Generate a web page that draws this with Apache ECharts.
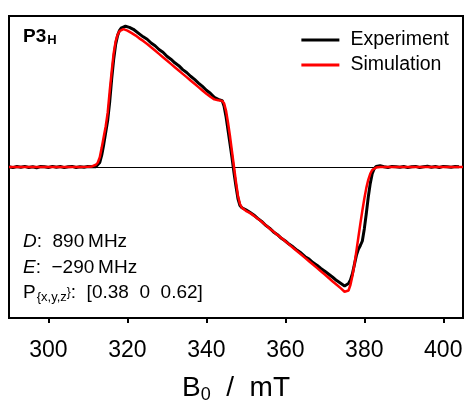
<!DOCTYPE html>
<html><head><meta charset="utf-8">
<script src="https://cdn.jsdelivr.net/npm/echarts@6/dist/echarts.min.js"></script>
<style>html,body{margin:0;padding:0;background:#fff}#c{width:465px;height:403px}</style>
</head><body><div id="c"></div>
<script>
const FONT = 'Liberation Sans';
const xTicks = [300, 320, 340, 360, 380, 400];

const simField = [290,300,305,308,310,311,311.5,312,312.5,313,313.5,314,314.5,315,315.5,316,316.5,317,317.5,318,318.5,319,319.5,320,321,322,323,324,325,326,327,328,329,330,331,332,333,334,335,336,337,338,339,340,341,342,342.5,343,343.5,344,344.5,345,345.5,346,346.5,347,347.5,348,348.5,349,349.5,350,350.5,351,352,353,354,355,356,357,358,359,360,361,362,363,364,365,366,367,368,369,370,371,372,373,374,374.5,375,375.5,376,376.5,377,377.5,378,378.5,379,379.5,380,380.5,381,381.5,382,382.5,383,384,390,405];
const simSignal = [0,0,0,0,0.001,0.004,0.008,0.015,0.03,0.065,0.13,0.2,0.27,0.36,0.5,0.63,0.75,0.83,0.875,0.9,0.91,0.913,0.91,0.903,0.888,0.872,0.852,0.835,0.815,0.793,0.771,0.749,0.727,0.705,0.683,0.661,0.639,0.617,0.595,0.573,0.551,0.529,0.507,0.485,0.465,0.448,0.443,0.442,0.443,0.438,0.42,0.37,0.29,0.2,0.1,0.0,-0.1,-0.19,-0.245,-0.27,-0.282,-0.29,-0.296,-0.304,-0.322,-0.342,-0.363,-0.385,-0.407,-0.428,-0.45,-0.47,-0.492,-0.514,-0.536,-0.558,-0.58,-0.602,-0.624,-0.646,-0.668,-0.69,-0.712,-0.735,-0.758,-0.78,-0.802,-0.815,-0.826,-0.83,-0.818,-0.78,-0.72,-0.645,-0.555,-0.465,-0.375,-0.29,-0.21,-0.14,-0.085,-0.045,-0.02,-0.008,-0.003,0,0,0];

const expField = [290,291,292,293,294,295,296,297,298,299,300,301,302,303,304,305,306,307,308,309,310,311,312,312.5,313,313.5,314,314.5,315,315.5,316,316.5,317,317.5,318,318.5,319,319.5,320,320.5,321,321.5,322,323,324,325,326,327,328,329,330,331,332,333,334,335,336,337,338,339,340,341,342,342.5,343,343.5,344,344.5,345,345.5,346,346.5,347,347.5,348,348.5,349,349.5,350,350.5,351,352,353,354,355,356,357,358,359,360,361,362,363,364,365,366,367,368,369,370,371,372,373,374,374.5,375,375.5,376,376.5,377,377.5,378,378.5,379,379.5,380,380.5,381,381.5,382,382.5,383,384,385,386,387,388,389,390,391,392,393,394,395,396,397,398,399,400,401,402,403,404,405];
const expSignal = [0.002,-0.004,0.003,-0.002,0.004,-0.003,0.002,-0.005,0.003,0.001,-0.003,0.004,-0.002,0.003,-0.004,0.002,0.004,-0.003,0.002,-0.002,0.003,0.001,0.002,0.008,0.03,0.08,0.15,0.23,0.31,0.43,0.58,0.71,0.81,0.87,0.905,0.922,0.93,0.932,0.928,0.925,0.915,0.912,0.9,0.882,0.862,0.846,0.821,0.803,0.778,0.76,0.733,0.714,0.69,0.671,0.645,0.626,0.601,0.58,0.556,0.534,0.508,0.488,0.462,0.452,0.448,0.447,0.44,0.4,0.33,0.24,0.15,0.06,-0.04,-0.13,-0.21,-0.255,-0.27,-0.275,-0.283,-0.292,-0.3,-0.318,-0.34,-0.36,-0.386,-0.405,-0.43,-0.448,-0.472,-0.49,-0.512,-0.53,-0.552,-0.57,-0.594,-0.61,-0.633,-0.65,-0.672,-0.69,-0.71,-0.73,-0.752,-0.77,-0.78,-0.788,-0.785,-0.772,-0.748,-0.705,-0.645,-0.585,-0.545,-0.52,-0.49,-0.41,-0.31,-0.2,-0.11,-0.045,-0.012,0.003,0.008,0.002,-0.003,0.004,0.002,-0.002,0.003,-0.004,0.002,0.004,-0.003,0.002,0.005,-0.002,0.003,-0.003,0.004,0.002,-0.002,0.003,0.002];

const zip = (xs, ys) => xs.map((x, i) => [x, ys[i]]);
const chart = echarts.init(document.getElementById('c'), null, {renderer: 'canvas'});
const rs = (size, extra) => Object.assign({fontSize: size, fontFamily: FONT, color: '#000'}, extra || {});

chart.setOption({
  animation: false,
  backgroundColor: '#fff',
  grid: {left: 9, right: 2, top: 16, bottom: 85, outerBoundsMode: 'none', containLabel: false, show: true, borderColor: '#000', borderWidth: 2, backgroundColor: 'transparent'},
  xAxis: {
    type: 'value', min: 290, max: 405,
    axisLine: {show: false, onZero: false},
    axisTick: {show: true, inside: false, length: 5, customValues: xTicks, lineStyle: {color: '#000', width: 2}},
    axisLabel: {customValues: xTicks, margin: 21, fontSize: 23, fontFamily: FONT, color: '#000'},
    splitLine: {show: false},
    name: '{a|B}{s|0}{a|  /  mT}', nameLocation: 'middle', nameGap: 55,
    nameTextStyle: {rich: {a: rs(28), s: rs(18, {padding: [13, 0, 0, 0]})}}
  },
  yAxis: {
    type: 'value', min: -1, max: 1, interval: 1,
    axisLine: {show: false}, axisTick: {show: false}, axisLabel: {show: false},
    splitLine: {show: true, lineStyle: {color: '#000', width: 1}}
  },
  legend: {
    data: ['Experiment', 'Simulation'], orient: 'vertical', right: 11, top: 25,
    icon: 'rect', itemWidth: 38, itemHeight: 3, itemGap: 5,
    textStyle: {fontSize: 19.5, fontFamily: FONT, color: '#000', padding: [0, 0, 0, 6], lineHeight: 18}
  },
  graphic: [
    {type: 'text', left: 23, top: 27, style: {text: '{b|P3}{s|H}', rich: {b: rs(19, {fontWeight: 'bold'}), s: rs(13, {fontWeight: 'bold', padding: [8, 0, 0, 1]})}}},
    {type: 'text', left: 23, top: 232, style: {text: '{i|D}{a|:  890\u2009MHz}', rich: {i: rs(19, {fontStyle: 'italic'}), a: rs(19)}}},
    {type: 'text', left: 23, top: 258, style: {text: '{i|E}{a|:  \u2212290\u2009MHz}', rich: {i: rs(19, {fontStyle: 'italic'}), a: rs(19)}}},
    {type: 'text', left: 23, top: 283, style: {text: '{a|P}{s|{x,y,z}}{a|:  [0.38  0  0.62]}', rich: {a: rs(19), s: rs(13, {padding: [9, 0, 0, 1]})}}}
  ],
  series: [
    {name: 'Experiment', type: 'line', data: zip(expField, expSignal), showSymbol: false, symbol: 'none', color: '#000', lineStyle: {color: '#000', width: 3}, z: 2},
    {name: 'Simulation', type: 'line', data: zip(simField, simSignal), showSymbol: false, symbol: 'none', color: '#ff0000', lineStyle: {color: '#ff0000', width: 2.5}, z: 3}
  ]
});
</script></body></html>
